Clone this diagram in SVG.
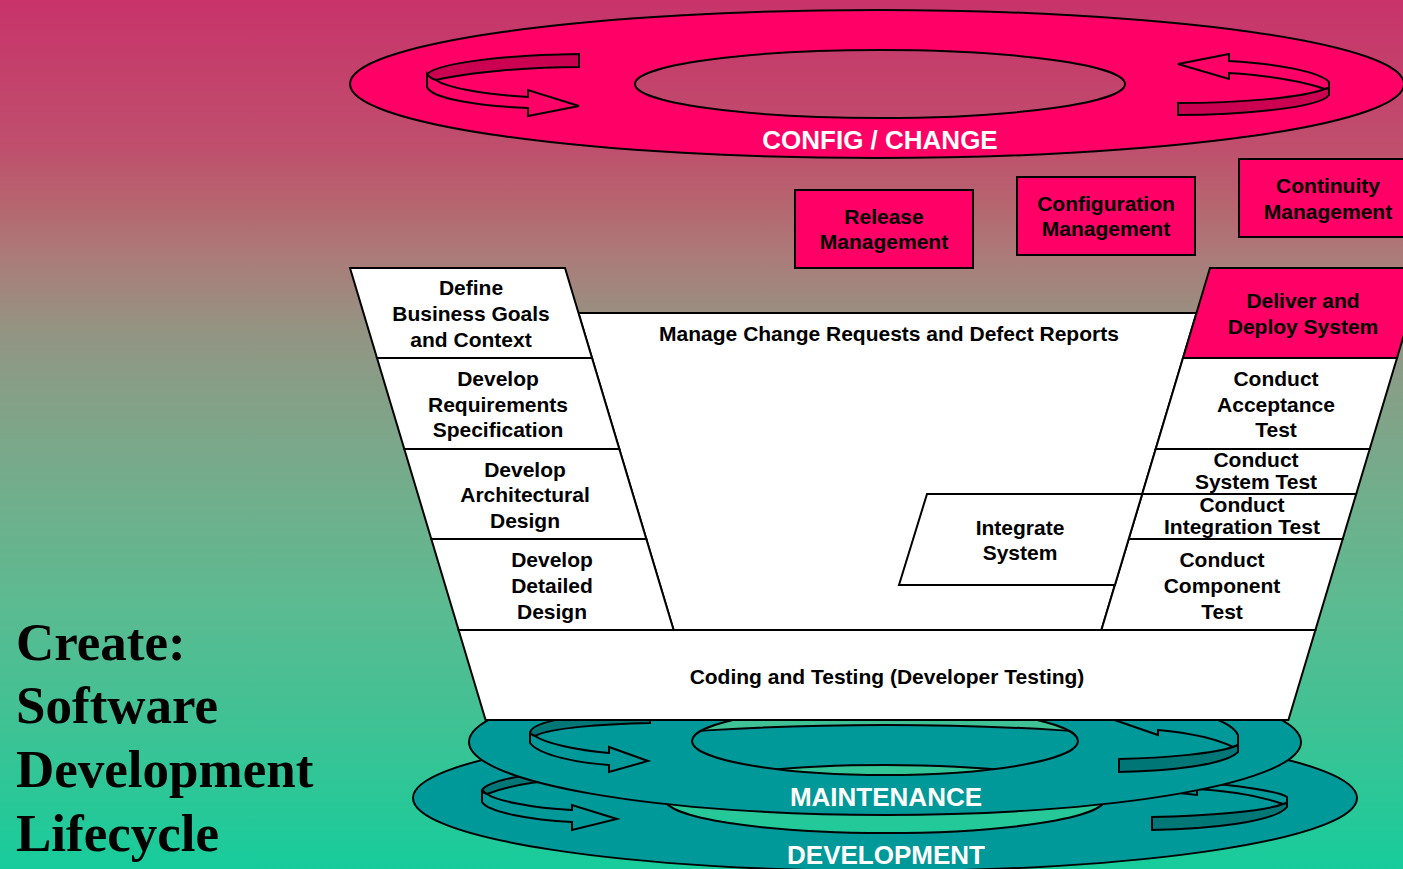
<svg xmlns="http://www.w3.org/2000/svg" width="1403" height="869" viewBox="0 0 1403 869">
<defs>
<linearGradient id="bg" x1="0" y1="0" x2="0" y2="869" gradientUnits="userSpaceOnUse">
<stop offset="0" stop-color="#C8336A"/>
<stop offset="0.17" stop-color="#BF4F6D"/>
<stop offset="0.24" stop-color="#B5676F"/>
<stop offset="0.3" stop-color="#AA7D7A"/>
<stop offset="0.38" stop-color="#949483"/>
<stop offset="0.46" stop-color="#84A187"/>
<stop offset="0.55" stop-color="#74AC8B"/>
<stop offset="0.69" stop-color="#5DBA91"/>
<stop offset="0.85" stop-color="#3BC395"/>
<stop offset="1" stop-color="#17CC9B"/>
</linearGradient>
<style>
.ln{stroke:#000;stroke-width:2;stroke-linejoin:miter}
.pink{fill:#FF0066}
.dpink{fill:#CC0050}
.teal{fill:#009999}
.dteal{fill:#007777}
.wh{fill:#FFFFFF}
.t{font-family:"Liberation Sans",Arial,sans-serif;font-weight:bold;font-size:21px;fill:#000;text-anchor:middle}
.rl{font-family:"Liberation Sans",Arial,sans-serif;font-weight:bold;font-size:26px;fill:#FFFFFF;text-anchor:middle}
.title{font-family:"Liberation Serif","Times New Roman",serif;font-weight:bold;font-size:53px;fill:#000}
</style>
</defs>
<rect x="0" y="0" width="1403" height="869" fill="url(#bg)"/>

<g id="config-ring">
<path class="pink ln" fill-rule="evenodd" d="M350,84 a527,74 0 1,0 1054,0 a527,74 0 1,0 -1054,0 Z M635,84 a245,34 0 1,0 490,0 a245,34 0 1,0 -490,0 Z"/>
<path class="dpink ln" d="M579,54 C510,55 440,62 427,74 C429,77 432,79 436,80 C470,72 530,67 579,67 Z"/>
<path class="pink ln" d="M427,74 L427,87 C432,99 480,106 528,108 L528,116 L579,106 L528,90 L528,97 C480,94 445,87 436,80 C432,79 429,77 427,74 Z"/>
<path class="pink ln" d="M1178,64 L1229,54 L1229,61 C1280,64 1320,72 1329,82 L1329,88 L1325,89 C1300,80 1260,75 1229,73 L1229,79 Z"/>
<path class="dpink ln" d="M1325,89 L1329,88 L1329,95 C1320,108 1240,115 1178,115 L1178,103 C1240,103 1300,98 1325,89 Z"/>
<text class="rl" x="880" y="149">CONFIG / CHANGE</text>
</g>

<g id="release-management">
<rect class="pink ln" x="795" y="190" width="178" height="78"/>
<text class="t" x="884" y="224">Release</text>
<text class="t" x="884" y="249">Management</text>
</g>
<g id="configuration-management">
<rect class="pink ln" x="1017" y="177" width="178" height="78"/>
<text class="t" x="1106" y="211">Configuration</text>
<text class="t" x="1106" y="236">Management</text>
</g>
<g id="continuity-management">
<rect class="pink ln" x="1239" y="159" width="178" height="78"/>
<text class="t" x="1328" y="193">Continuity</text>
<text class="t" x="1328" y="219">Management</text>
</g>

<g id="development-ring">
<path class="teal ln" fill-rule="evenodd" d="M413,798 a472,73 0 1,0 944,0 a472,73 0 1,0 -944,0 Z M665,799 a220,34 0 1,0 440,0 a220,34 0 1,0 -440,0 Z"/>
<path class="dteal ln" d="M560,771 C520,775 488,781 482,790 C484,792 485,793 487,794 C505,787 530,782 560,780 Z"/>
<path class="teal ln" d="M482,790 L482,802 C488,812 530,820 572,822 L572,830 L617,819 L572,805 L572,810 C530,808 495,800 487,794 C484,793 482,792 482,790 Z"/>
<path class="teal ln" d="M1150,790 L1190,776 L1190,782 C1240,785 1280,792 1287,797 L1287,803 L1283,804 C1260,796 1230,791 1197,789 L1197,795 Z"/>
<path class="dteal ln" d="M1283,804 L1287,803 L1287,807 C1275,822 1210,829 1152,830 L1152,817 C1210,816 1265,811 1283,804 Z"/>
<text class="rl" x="886" y="864">DEVELOPMENT</text>
</g>

<g id="maintenance-ring">
<path class="teal ln" fill-rule="evenodd" d="M469,742 a416,73 0 1,0 832,0 a416,73 0 1,0 -832,0 Z M692,741 a193,34 0 1,0 386,0 a193,34 0 1,0 -386,0 Z"/>
<path class="dteal ln" d="M650,712 L650,723 C600,724 550,728 535,736 C532,735 530,734 530,732 C535,718 600,713 650,712 Z"/>
<path class="teal ln" d="M530,732 L530,743 C540,756 580,763 609,765 L609,772 L648,761 L609,747 L609,753 C575,750 545,743 535,736 C532,735 530,734 530,732 Z"/>
<path class="teal ln" d="M1100,715 L1150,698 L1150,705 C1200,710 1232,722 1238,735 L1238,745 L1233,747 C1215,738 1190,733 1158,730 L1158,735 Z"/>
<path class="dteal ln" d="M1233,747 L1238,745 L1238,752 C1225,765 1170,771 1119,772 L1119,759 C1170,758 1215,753 1233,747 Z"/>
<text class="rl" x="886" y="806">MAINTENANCE</text>
</g>

<g id="manage-change-requests">
<polygon class="wh ln" points="578.5,313 1196.5,313 1101.4,630 673.6,630"/>
<text class="t" x="889" y="341">Manage Change Requests and Defect Reports</text>
</g>

<g id="define-business-goals">
<polygon class="wh ln" points="350,268 565,268 592,358 377,358"/>
<text class="t" x="471" y="295">Define</text>
<text class="t" x="471" y="321">Business Goals</text>
<text class="t" x="471" y="347">and Context</text>
</g>
<g id="develop-requirements">
<polygon class="wh ln" points="377,358 592,358 619.3,449 404.3,449"/>
<text class="t" x="498" y="386">Develop</text>
<text class="t" x="498" y="412">Requirements</text>
<text class="t" x="498" y="437">Specification</text>
</g>
<g id="develop-architectural-design">
<polygon class="wh ln" points="404.3,449 619.3,449 646.3,539 431.3,539"/>
<text class="t" x="525" y="477">Develop</text>
<text class="t" x="525" y="502">Architectural</text>
<text class="t" x="525" y="528">Design</text>
</g>
<g id="develop-detailed-design">
<polygon class="wh ln" points="431.3,539 646.3,539 673.6,630 458.6,630"/>
<text class="t" x="552" y="567">Develop</text>
<text class="t" x="552" y="593">Detailed</text>
<text class="t" x="552" y="619">Design</text>
</g>

<g id="deliver-deploy">
<polygon class="pink ln" points="1210,268 1424,268 1397,358 1183,358"/>
<text class="t" x="1303" y="308">Deliver and</text>
<text class="t" x="1303" y="334">Deploy System</text>
</g>
<g id="acceptance-test">
<polygon class="wh ln" points="1183,358 1397,358 1369.7,449 1155.7,449"/>
<text class="t" x="1276" y="386">Conduct</text>
<text class="t" x="1276" y="412">Acceptance</text>
<text class="t" x="1276" y="437">Test</text>
</g>
<g id="system-test">
<polygon class="wh ln" points="1155.7,449 1369.7,449 1356.2,494 1142.2,494"/>
<text class="t" x="1256" y="467">Conduct</text>
<text class="t" x="1256" y="489">System Test</text>
</g>
<g id="integration-test">
<polygon class="wh ln" points="1142.2,494 1356.2,494 1342.7,539 1128.7,539"/>
<text class="t" x="1242" y="512">Conduct</text>
<text class="t" x="1242" y="534">Integration Test</text>
</g>
<g id="component-test">
<polygon class="wh ln" points="1128.7,539 1342.7,539 1315.4,630 1101.4,630"/>
<text class="t" x="1222" y="567">Conduct</text>
<text class="t" x="1222" y="593">Component</text>
<text class="t" x="1222" y="619">Test</text>
</g>
<g id="integrate-system">
<polygon class="wh ln" points="927,494 1142.2,494 1114.9,585 899,585"/>
<text class="t" x="1020" y="535">Integrate</text>
<text class="t" x="1020" y="560">System</text>
</g>
<g id="coding-testing">
<polygon class="wh ln" points="458.6,630 1315.4,630 1288.4,720 485.6,720"/>
<text class="t" x="887" y="684">Coding and Testing (Developer Testing)</text>
</g>

<g id="connectors"></g>

<g id="title">
<text class="title" x="16" y="660">Create:</text>
<text class="title" x="16" y="723">Software</text>
<text class="title" x="16" y="787">Development</text>
<text class="title" x="16" y="851">Lifecycle</text>
</g>
</svg>
